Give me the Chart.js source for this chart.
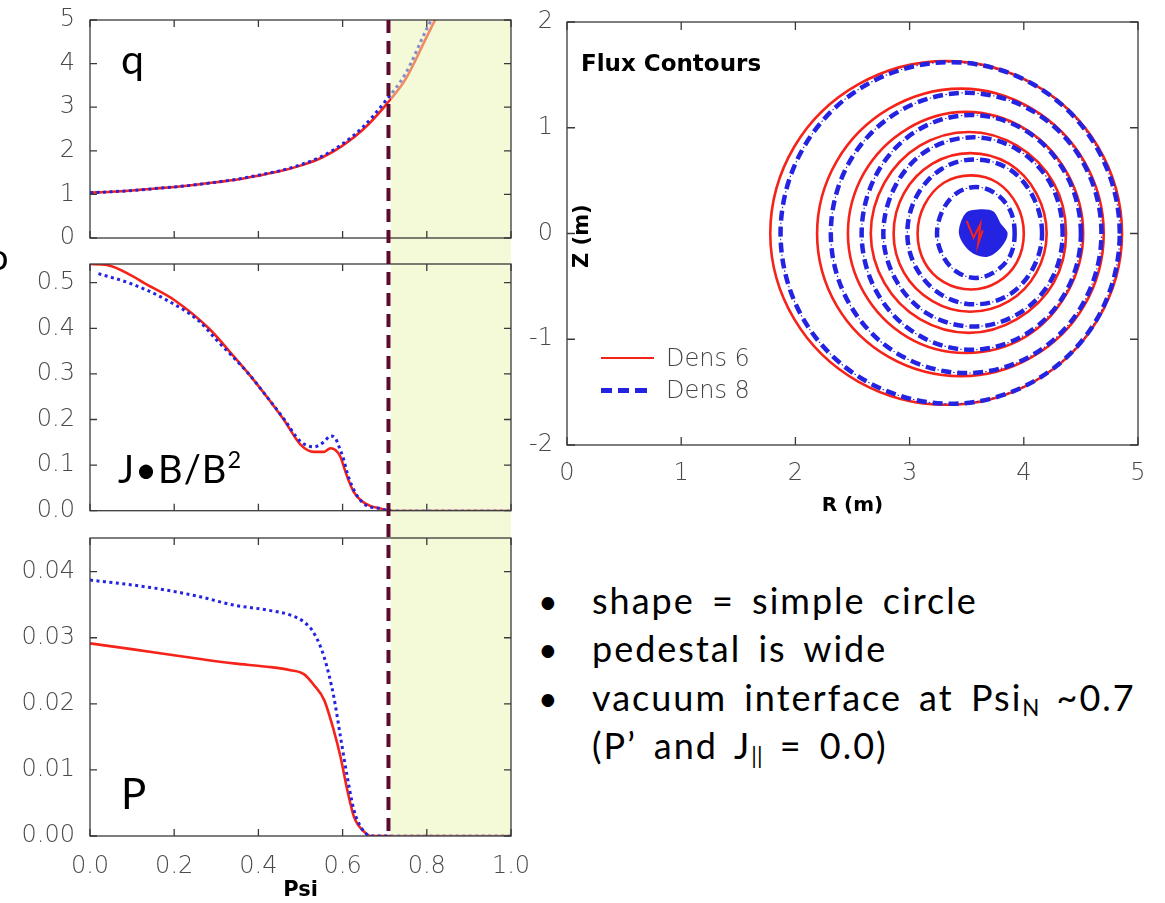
<!DOCTYPE html>
<html><head><meta charset="utf-8">
<script src="https://cdn.jsdelivr.net/npm/chart.js@4.4.1/dist/chart.umd.min.js"></script>
<style>
html,body{margin:0;padding:0;background:#fff;}
body{width:1165px;height:903px;position:relative;overflow:hidden;}
canvas{position:absolute;}
.t{position:absolute;white-space:nowrap;line-height:1;font-family:Lato,'Open Sans',sans-serif;color:#000;}
.bl{letter-spacing:2px;word-spacing:6px;font-size:36px;}
.lg{position:absolute;white-space:nowrap;line-height:1;font-family:'DejaVu Sans',sans-serif;font-weight:200;font-size:24px;color:#444;}
.b{font-family:'DejaVu Sans',sans-serif;font-weight:bold;}
sub{font-size:0.62em;vertical-align:-0.22em;line-height:0;letter-spacing:0;}
sup{font-size:0.62em;vertical-align:0.62em;line-height:0;}
</style></head><body>
<canvas id="cQ" width="530" height="251" style="left:0;top:0"></canvas>
<canvas id="cJ" width="530" height="273" style="left:0;top:251px"></canvas>
<canvas id="cP" width="530" height="379" style="left:0;top:524px"></canvas>
<canvas id="cF" width="645" height="530" style="left:520px;top:0"></canvas>

<div class="t" style="left:-12px;top:238px;font-size:36px;">o</div>
<div class="t" style="left:121px;top:38px;font-size:41px;">q</div>
<div class="t" style="left:118px;top:449px;font-size:38px;letter-spacing:1px;">J•B/B<sup>2</sup></div>
<div class="t" style="left:121px;top:772px;font-size:42px;">P</div>

<div class="t b" style="left:581px;top:52px;font-size:23px;">Flux Contours</div>
<div class="t b" style="left:571px;top:222px;font-size:21px;transform-origin:0 0;transform:translate(0,46px) rotate(-90deg);">Z (m)</div>

<div style="position:absolute;left:601px;top:357px;width:53px;height:0;border-top:2.6px solid rgb(245,35,25);"></div>
<div class="lg" style="left:666px;top:346px;">Dens 6</div>
<div style="position:absolute;left:601px;top:388px;width:11px;height:4.5px;background:rgb(35,35,225);"></div>
<div style="position:absolute;left:618px;top:388px;width:11px;height:4.5px;background:rgb(35,35,225);"></div>
<div style="position:absolute;left:635px;top:388px;width:12px;height:4.5px;background:rgb(35,35,225);"></div>
<div class="lg" style="left:666px;top:378px;">Dens 8</div>

<div class="t" style="left:538px;top:584px;font-size:34px;">•</div>
<div class="t bl" style="left:592px;top:582px;">shape = simple circle</div>
<div class="t" style="left:538px;top:632px;font-size:34px;">•</div>
<div class="t bl" style="left:592px;top:630px;">pedestal is wide</div>
<div class="t" style="left:538px;top:681px;font-size:34px;">•</div>
<div class="t bl" style="left:592px;top:679px;">vacuum interface at Psi<sub>N</sub> ~0.7</div>
<div class="t bl" style="left:592px;top:727px;">(P’ and J<sub>||</sub> = 0.0)</div>

<script>
// ---------- DATA ----------
const psiTicksStep = 0.2;
const vacuumPsi = 0.709;      // dashed vacuum-interface line
const shadeFromPsi = 0.715;   // start of vacuum (shaded) region

const psiQ   = [0, 0.05, 0.1, 0.15, 0.2, 0.25, 0.3, 0.35, 0.4, 0.45, 0.5, 0.55, 0.6, 0.65, 0.7, 0.75, 0.8, 0.84];
const qDens6 = [1.04, 1.06, 1.09, 1.13, 1.17, 1.22, 1.28, 1.34, 1.43, 1.53, 1.66, 1.84, 2.12, 2.50, 3.02, 3.65, 4.62, 5.40];
const qDens8 = [1.04, 1.06, 1.09, 1.13, 1.17, 1.22, 1.28, 1.35, 1.44, 1.54, 1.68, 1.87, 2.16, 2.56, 3.12, 3.78, 4.80, 5.50];

const psiJDens6 = [0, 0.04, 0.1, 0.127, 0.2, 0.282, 0.34, 0.377, 0.42, 0.46, 0.5, 0.532, 0.556, 0.571, 0.583, 0.595, 0.603, 0.614, 0.626, 0.643, 0.667, 0.69, 0.71, 1.0];
const jDens6    = [0.541, 0.539, 0.515, 0.500, 0.462, 0.400, 0.340, 0.300, 0.250, 0.200, 0.145, 0.129, 0.129, 0.137, 0.133, 0.118, 0.096, 0.067, 0.042, 0.023, 0.010, 0.005, 0.0, 0.0];
const psiJDens8 = [0.02, 0.1, 0.18, 0.26, 0.3, 0.377, 0.42, 0.46, 0.5, 0.532, 0.556, 0.571, 0.583, 0.59, 0.603, 0.611, 0.623, 0.638, 0.659, 0.69, 0.71, 1.0];
const jDens8    = [0.520, 0.497, 0.463, 0.415, 0.375, 0.300, 0.250, 0.202, 0.152, 0.140, 0.151, 0.164, 0.159, 0.144, 0.111, 0.083, 0.053, 0.028, 0.010, 0.005, 0.0, 0.0];

const psiPDens6 = [0, 0.103, 0.183, 0.262, 0.341, 0.421, 0.476, 0.508, 0.532, 0.556, 0.579, 0.595, 0.611, 0.627, 0.651, 0.667, 1.0];
const pDens6    = [0.02915, 0.02824, 0.0275, 0.02678, 0.02612, 0.02562, 0.0251, 0.0245, 0.02284, 0.0206, 0.0160, 0.0120, 0.0070, 0.0029, 0.00065, 0, 0];
const psiPDens8 = [0, 0.103, 0.183, 0.262, 0.341, 0.421, 0.476, 0.508, 0.532, 0.556, 0.579, 0.595, 0.611, 0.627, 0.643, 0.659, 0.675, 1.0];
const pDens8    = [0.03873, 0.03797, 0.0372, 0.0362, 0.03495, 0.0342, 0.03343, 0.0324, 0.0307, 0.0271, 0.0211, 0.0150, 0.0090, 0.0039, 0.0014, 0.0002, 0, 0];

// flux contours: [R (m), Z (m)] read around each surface
const dens6_1 = [[4.86,0],[4.65,0.82],[4.09,1.41],[3.32,1.63],[2.55,1.41],[1.99,0.82],[1.78,0],[1.99,-0.81],[2.55,-1.40],[3.32,-1.62],[4.09,-1.40],[4.65,-0.81]];
const dens6_2 = [[4.70,0],[4.53,0.68],[4.07,1.18],[3.45,1.37],[2.82,1.18],[2.36,0.68],[2.19,0],[2.36,-0.68],[2.82,-1.17],[3.45,-1.35],[4.07,-1.17],[4.53,-0.68]];
const dens6_3 = [[4.52,0],[4.38,0.57],[4.01,0.99],[3.49,1.15],[2.98,0.99],[2.60,0.57],[2.46,0],[2.60,-0.56],[2.98,-0.98],[3.49,-1.13],[4.01,-0.98],[4.38,-0.56]];
const dens6_4 = [[4.37,0],[4.26,0.48],[3.94,0.83],[3.52,0.96],[3.09,0.83],[2.78,0.48],[2.66,0],[2.78,-0.47],[3.09,-0.81],[3.52,-0.94],[3.94,-0.81],[4.26,-0.47]];
const dens6_5 = [[4.20,0],[4.11,0.38],[3.87,0.66],[3.53,0.76],[3.20,0.66],[2.95,0.38],[2.86,0],[2.95,-0.37],[3.20,-0.64],[3.53,-0.74],[3.87,-0.64],[4.11,-0.37]];
const dens6_6 = [[4.00,0],[3.94,0.27],[3.77,0.48],[3.54,0.55],[3.30,0.48],[3.13,0.27],[3.07,0],[3.13,-0.27],[3.30,-0.46],[3.54,-0.53],[3.77,-0.46],[3.94,-0.27]];
const dens8_1 = [[4.84,0],[4.64,0.81],[4.10,1.40],[3.36,1.62],[2.61,1.40],[2.07,0.81],[1.87,0],[2.07,-0.81],[2.61,-1.39],[3.36,-1.61],[4.10,-1.39],[4.64,-0.81]];
const dens8_2 = [[4.68,0],[4.52,0.67],[4.09,1.15],[3.50,1.33],[2.90,1.15],[2.47,0.67],[2.31,0],[2.47,-0.66],[2.90,-1.14],[3.50,-1.32],[4.09,-1.14],[4.52,-0.66]];
const dens8_3 = [[4.50,0],[4.37,0.56],[4.02,0.97],[3.54,1.12],[3.06,0.97],[2.71,0.56],[2.58,0],[2.71,-0.55],[3.06,-0.95],[3.54,-1.10],[4.02,-0.95],[4.37,-0.55]];
const dens8_4 = [[4.34,0],[4.24,0.46],[3.95,0.79],[3.56,0.91],[3.16,0.79],[2.88,0.46],[2.77,0],[2.88,-0.44],[3.16,-0.76],[3.56,-0.88],[3.95,-0.76],[4.24,-0.44]];
const dens8_5 = [[4.16,0],[4.08,0.35],[3.87,0.61],[3.57,0.70],[3.28,0.61],[3.06,0.35],[2.98,0],[3.06,-0.33],[3.28,-0.58],[3.57,-0.67],[3.87,-0.58],[4.08,-0.33]];
const dens8_6 = [[3.92,0],[3.88,0.22],[3.75,0.38],[3.58,0.44],[3.41,0.38],[3.29,0.22],[3.24,0],[3.29,-0.21],[3.41,-0.36],[3.58,-0.42],[3.75,-0.36],[3.88,-0.21]];
const dens8Axis = [[3.44,0.03],[3.50,0.19],[3.62,0.22],[3.73,0.20],[3.79,0.09],[3.85,0],[3.79,-0.13],[3.68,-0.21],[3.56,-0.18],[3.47,-0.08]];
const dens6Axis = [[3.50,0.12],[3.56,-0.04],[3.62,0.09],[3.60,-0.10],[3.64,0.03]];

// ---------- STYLE / HELPERS ----------
const RED = 'rgb(245,35,25)';
const BLUE = 'rgb(35,35,225)';
const TICK_FONT = {family: "'DejaVu Sans', sans-serif", size: 24, weight: 200};
const TICK_COLOR = '#4a4a4a';
Chart.defaults.animation = false;

function xy(xs, ys) { return xs.map((x, i) => ({x: x, y: ys[i]})); }
function pairs(p) { return p.map(q => ({x: q[0], y: q[1]})); }
function noAutoPad(s) { s.paddingTop = 0; s.paddingBottom = 0; s.paddingLeft = 0; s.paddingRight = 0; }

// close contour datasets into smooth loops (same mechanism the radar chart uses)
const closeLoops = {
  id: 'closeLoops',
  afterUpdate(chart) {
    chart.data.datasets.forEach((ds, i) => {
      if (!ds.closed) return;
      const line = chart.getDatasetMeta(i).dataset;
      if (line) {
        line._loop = true; line._fullLoop = true;
        delete line._segments; delete line._path; line._pointsUpdated = false;
      }
    });
  }
};

const frameTicks = {
  id: 'frameTicks',
  afterDatasetsDraw(chart, args, o) {
    const ctx = chart.ctx, a = chart.chartArea;
    const xs = chart.scales.x, ys = chart.scales.y;
    ctx.save();
    let top = a.top, bot = a.bottom;
    if (o.shade) {
      top = o.extendTop ? 0 : a.top; bot = o.extendBottom ? chart.height : a.bottom;
      const sx = xs.getPixelForValue(shadeFromPsi);
      ctx.fillStyle = 'rgba(234,243,178,0.5)';
      ctx.fillRect(sx, top, a.right - sx, bot - top);
    }
    ctx.strokeStyle = '#3a3a3a'; ctx.lineWidth = 1.3;
    ctx.strokeRect(a.left, a.top, a.right - a.left, a.bottom - a.top);
    const L = o.tickLen || 7;
    ctx.beginPath();
    xs.ticks.forEach(t => {
      const p = xs.getPixelForValue(t.value);
      ctx.moveTo(p, a.bottom); ctx.lineTo(p, a.bottom - L);
      ctx.moveTo(p, a.top); ctx.lineTo(p, a.top + L);
    });
    ys.ticks.forEach(t => {
      const p = ys.getPixelForValue(t.value);
      ctx.moveTo(a.left, p); ctx.lineTo(a.left + L, p);
      ctx.moveTo(a.right, p); ctx.lineTo(a.right - L, p);
    });
    ctx.stroke();
    if (o.shade) {
      const vx = xs.getPixelForValue(vacuumPsi);
      ctx.strokeStyle = '#5c0b2c'; ctx.lineWidth = 4;
      ctx.setLineDash([13, 8]); ctx.lineDashOffset = o.dashOffset || 0;
      ctx.beginPath(); ctx.moveTo(vx, top); ctx.lineTo(vx, bot); ctx.stroke();
    }
    ctx.restore();
  }
};

function profileChart(id, d6x, d6y, d8x, d8y, yOpt, layoutPad, showX, plug) {
  const xScale = {
    type: 'linear', min: 0, max: 1,
    grid: {display: false, drawTicks: false}, border: {display: false},
    ticks: {display: showX, stepSize: psiTicksStep, autoSkip: false, maxRotation: 0, padding: 16,
      font: TICK_FONT, color: TICK_COLOR, callback: v => v.toFixed(1)},
    afterFit: s => { s.height = showX ? 67 : 0; noAutoPad(s); }
  };
  if (showX) xScale.title = {display: true, text: 'Psi', color: '#000', padding: {top: 0, bottom: 0},
    font: {family: "'DejaVu Sans', sans-serif", size: 21, weight: 'bold'}};
  return new Chart(document.getElementById(id), {
    type: 'scatter',
    data: {datasets: [
      {label: 'Dens 8', data: xy(d8x, d8y), showLine: true, pointRadius: 0, borderColor: BLUE,
       borderWidth: 3, borderDash: [3, 3.5], cubicInterpolationMode: 'monotone', order: 0},
      {label: 'Dens 6', data: xy(d6x, d6y), showLine: true, pointRadius: 0, borderColor: RED,
       borderWidth: 2.6, cubicInterpolationMode: 'monotone', order: 1}
    ]},
    options: {
      responsive: false, devicePixelRatio: 1, animation: false,
      layout: {padding: layoutPad},
      plugins: {legend: {display: false}, tooltip: {enabled: false}, frameTicks: plug},
      scales: {
        x: xScale,
        y: Object.assign({
          type: 'linear', grid: {display: false, drawTicks: false}, border: {display: false},
          afterFit: s => { s.width = 90; noAutoPad(s); }
        }, yOpt)
      }
    },
    plugins: [frameTicks]
  });
}

function yTicks(step, dec) {
  return {stepSize: step, includeBounds: false, autoSkip: false, padding: 15, font: TICK_FONT,
    color: TICK_COLOR, callback: v => v.toFixed(dec)};
}

profileChart('cQ', psiQ, qDens6, psiQ, qDens8,
  {min: 0, max: 5, ticks: yTicks(1, 0)},
  {top: 20, bottom: 13, left: 0, right: 19}, false,
  {shade: true, extendTop: false, extendBottom: true, dashOffset: 0});
profileChart('cJ', psiJDens6, jDens6, psiJDens8, jDens8,
  {min: 0, max: 0.541, ticks: yTicks(0.1, 1)},
  {top: 13, bottom: 13.3, left: 0, right: 19}, false,
  {shade: true, extendTop: true, extendBottom: true, dashOffset: 231});
profileChart('cP', psiPDens6, pDens6, psiPDens8, pDens8,
  {min: 0, max: 0.0451, ticks: yTicks(0.01, 2)},
  {top: 14, bottom: 0, left: 0, right: 19}, true,
  {shade: true, extendTop: true, extendBottom: false, dashOffset: 504});

// ---------- FLUX CONTOURS ----------
const dens6Surfaces = [dens6_1, dens6_2, dens6_3, dens6_4, dens6_5, dens6_6];
const dens8Surfaces = [dens8_1, dens8_2, dens8_3, dens8_4, dens8_5, dens8_6];
const fluxSets = [];
dens8Surfaces.forEach(s => {
  fluxSets.push({label: 'Dens 8', data: pairs(s), closed: true, showLine: true, pointRadius: 0, borderColor: BLUE,
    borderWidth: 4.5, borderDash: [10, 6], tension: 0.35, order: 0});
  fluxSets.push({label: 'Dens 8 thin', data: pairs(s), closed: true, showLine: true, pointRadius: 0, borderColor: BLUE,
    borderWidth: 1.1, borderDash: [1.5, 2.5], tension: 0.35, order: 0});
});
fluxSets.push({label: 'Dens 8 axis', data: pairs(dens8Axis), closed: true, showLine: true, pointRadius: 0, borderColor: BLUE,
  backgroundColor: BLUE, borderWidth: 2, fill: 'shape', tension: 0.3, order: 0});
fluxSets.push({label: 'Dens 6 axis', data: pairs(dens6Axis), showLine: true, pointRadius: 0,
  borderColor: RED, borderWidth: 2, tension: 0, order: -1});
dens6Surfaces.forEach(s => {
  fluxSets.push({label: 'Dens 6', data: pairs(s), closed: true, showLine: true, pointRadius: 0, borderColor: RED,
    borderWidth: 2.6, tension: 0.35, order: 2});
});

new Chart(document.getElementById('cF'), {
  type: 'scatter',
  data: {datasets: fluxSets},
  options: {
    responsive: false, devicePixelRatio: 1, animation: false,
    layout: {padding: {top: 22, right: 27, left: 0, bottom: 0}},
    plugins: {legend: {display: false}, tooltip: {enabled: false}, frameTicks: {shade: false, tickLen: 8}},
    scales: {
      x: {type: 'linear', min: 0, max: 5, grid: {display: false, drawTicks: false}, border: {display: false},
        ticks: {stepSize: 1, autoSkip: false, maxRotation: 0, padding: 14, font: TICK_FONT, color: TICK_COLOR},
        title: {display: true, text: 'R (m)', color: '#000', padding: {top: 0, bottom: 12},
          font: {family: "'DejaVu Sans', sans-serif", size: 20, weight: 'bold'}},
        afterFit: s => { s.height = 85; noAutoPad(s); }},
      y: {type: 'linear', min: -2, max: 2, grid: {display: false, drawTicks: false}, border: {display: false},
        ticks: {stepSize: 1, autoSkip: false, padding: 14, font: TICK_FONT, color: TICK_COLOR},
        afterFit: s => { s.width = 47; noAutoPad(s); }}
    }
  },
  plugins: [closeLoops, frameTicks]
});
</script>
</body></html>
